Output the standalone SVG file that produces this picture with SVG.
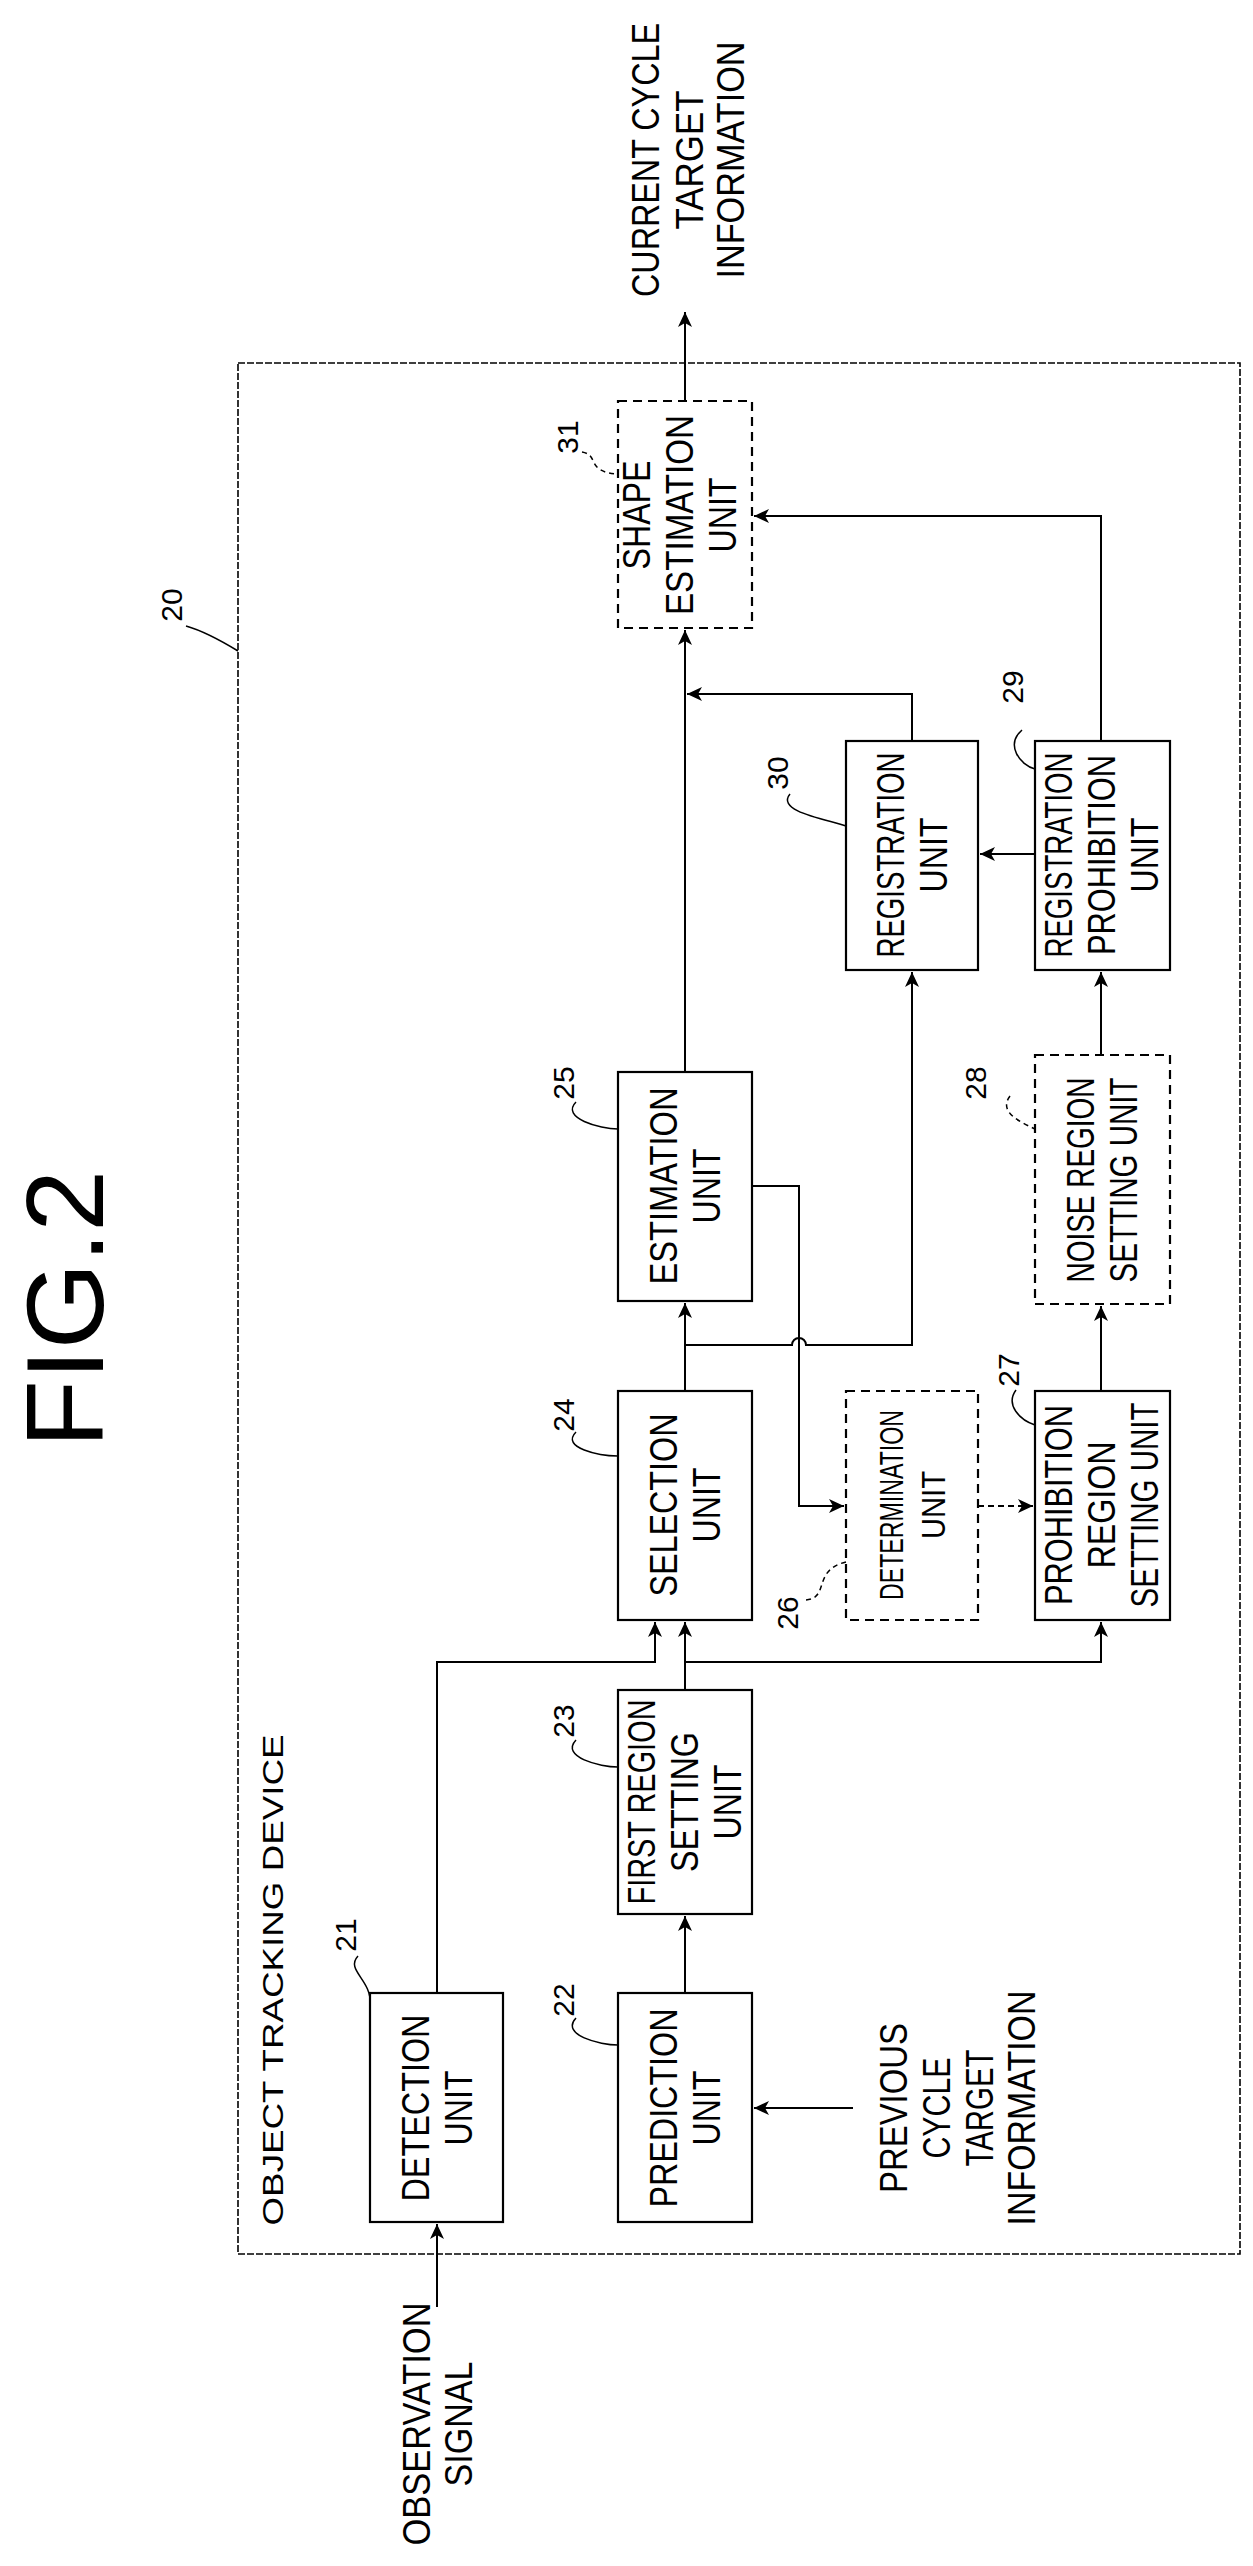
<svg xmlns="http://www.w3.org/2000/svg" width="1253" height="2566" viewBox="0 0 1253 2566">
<style>
text{font-family:"Liberation Sans",Arial,sans-serif;fill:#000;text-anchor:middle}
.t{font-size:38px}
.s{font-size:34px}
.n{font-size:30px}
.box{fill:#fff;stroke:#000;stroke-width:2.2}
.dbox{fill:#fff;stroke:#000;stroke-width:2.2;stroke-dasharray:9 6}
.ln{fill:none;stroke:#000;stroke-width:2}
.dl{fill:none;stroke:#000;stroke-width:2;stroke-dasharray:6 4}
.ld{fill:none;stroke:#000;stroke-width:1.5}
.ldd{fill:none;stroke:#000;stroke-width:1.5;stroke-dasharray:5 4}
</style>
<defs>
<marker id="a" markerUnits="userSpaceOnUse" markerWidth="16" markerHeight="14" refX="15" refY="7" orient="auto">
<path d="M0,0 L15,7 L0,14 L4,7 Z" fill="#000"/>
</marker>
</defs>
<rect width="1253" height="2566" fill="#fff"/>
<text transform="translate(103,1309) rotate(-90)" style="font-size:110px" textLength="278" lengthAdjust="spacingAndGlyphs">FIG.2</text>

<g id="n20">
<rect x="238" y="363" width="1002" height="1891" fill="none" stroke="#000" stroke-width="1.6" stroke-dasharray="7 2"/>
<text class="n" transform="translate(182,605) rotate(-90)">20</text>
<path class="ld" d="M186,626 C200,630 220,640 238,651"/>
<text class="n" transform="translate(283,1980) rotate(-90)" textLength="491" lengthAdjust="spacingAndGlyphs">OBJECT TRACKING DEVICE</text>
</g>

<g id="n21">
<rect class="box" x="370" y="1993" width="133" height="229"/>
<text class="t" transform="translate(428.5,2108) rotate(-90)" textLength="187" lengthAdjust="spacingAndGlyphs">DETECTION</text>
<text class="t" transform="translate(471.5,2108) rotate(-90)" textLength="75" lengthAdjust="spacingAndGlyphs">UNIT</text>
<text class="n" transform="translate(356,1935) rotate(-90)">21</text>
<path class="ld" d="M358,1956 C345,1970 372,1980 370,2004"/>
</g>

<g id="n22">
<rect class="box" x="618" y="1993" width="134" height="229"/>
<text class="t" transform="translate(676.5,2108) rotate(-90)" textLength="199" lengthAdjust="spacingAndGlyphs">PREDICTION</text>
<text class="t" transform="translate(719.5,2108) rotate(-90)" textLength="75" lengthAdjust="spacingAndGlyphs">UNIT</text>
<text class="n" transform="translate(574,2000) rotate(-90)">22</text>
<path class="ld" d="M576,2018 C560,2035 600,2045 618,2045"/>
</g>

<g id="n23">
<rect class="box" x="618" y="1690" width="134" height="224"/>
<text class="t" transform="translate(655,1802) rotate(-90)" textLength="205" lengthAdjust="spacingAndGlyphs">FIRST REGION</text>
<text class="t" transform="translate(698,1802) rotate(-90)" textLength="140" lengthAdjust="spacingAndGlyphs">SETTING</text>
<text class="t" transform="translate(741,1802) rotate(-90)" textLength="75" lengthAdjust="spacingAndGlyphs">UNIT</text>
<text class="n" transform="translate(574,1721) rotate(-90)">23</text>
<path class="ld" d="M576,1740 C560,1757 600,1767 618,1767"/>
</g>

<g id="n24">
<rect class="box" x="618" y="1391" width="134" height="229"/>
<text class="t" transform="translate(676.5,1505) rotate(-90)" textLength="183" lengthAdjust="spacingAndGlyphs">SELECTION</text>
<text class="t" transform="translate(719.5,1505) rotate(-90)" textLength="75" lengthAdjust="spacingAndGlyphs">UNIT</text>
<text class="n" transform="translate(574,1415) rotate(-90)">24</text>
<path class="ld" d="M576,1432 C560,1448 600,1456 618,1456"/>
</g>

<g id="n25">
<rect class="box" x="618" y="1072" width="134" height="229"/>
<text class="t" transform="translate(676.5,1186) rotate(-90)" textLength="197" lengthAdjust="spacingAndGlyphs">ESTIMATION</text>
<text class="t" transform="translate(719.5,1186) rotate(-90)" textLength="75" lengthAdjust="spacingAndGlyphs">UNIT</text>
<text class="n" transform="translate(574,1083) rotate(-90)">25</text>
<path class="ld" d="M576,1102 C560,1118 600,1129 618,1129"/>
</g>

<g id="n26">
<rect class="dbox" x="846" y="1391" width="132" height="229"/>
<text class="s" transform="translate(903,1505) rotate(-90)" textLength="190" lengthAdjust="spacingAndGlyphs">DETERMINATION</text>
<text class="s" transform="translate(945,1505) rotate(-90)" textLength="68" lengthAdjust="spacingAndGlyphs">UNIT</text>
<text class="n" transform="translate(798,1613) rotate(-90)">26</text>
<path class="ldd" d="M806,1600 C830,1598 812,1570 846,1562"/>
</g>

<g id="n27">
<rect class="box" x="1035" y="1391" width="135" height="229"/>
<text class="t" transform="translate(1072,1505) rotate(-90)" textLength="200" lengthAdjust="spacingAndGlyphs">PROHIBITION</text>
<text class="t" transform="translate(1115,1505) rotate(-90)" textLength="127" lengthAdjust="spacingAndGlyphs">REGION</text>
<text class="t" transform="translate(1158,1505) rotate(-90)" textLength="205" lengthAdjust="spacingAndGlyphs">SETTING UNIT</text>
<text class="n" transform="translate(1019,1370) rotate(-90)">27</text>
<path class="ld" d="M1016,1390 C1005,1405 1020,1420 1035,1425"/>
</g>

<g id="n28">
<rect class="dbox" x="1035" y="1055" width="135" height="249"/>
<text class="t" transform="translate(1093.5,1180) rotate(-90)" textLength="205" lengthAdjust="spacingAndGlyphs">NOISE REGION</text>
<text class="t" transform="translate(1136.5,1180) rotate(-90)" textLength="205" lengthAdjust="spacingAndGlyphs">SETTING UNIT</text>
<text class="n" transform="translate(986,1083) rotate(-90)">28</text>
<path class="ldd" d="M1010,1096 C998,1112 1020,1122 1035,1129"/>
</g>

<g id="n29">
<rect class="box" x="1035" y="741" width="135" height="229"/>
<text class="t" transform="translate(1072,855) rotate(-90)" textLength="205" lengthAdjust="spacingAndGlyphs">REGISTRATION</text>
<text class="t" transform="translate(1115,855) rotate(-90)" textLength="200" lengthAdjust="spacingAndGlyphs">PROHIBITION</text>
<text class="t" transform="translate(1158,855) rotate(-90)" textLength="75" lengthAdjust="spacingAndGlyphs">UNIT</text>
<text class="n" transform="translate(1023,687) rotate(-90)">29</text>
<path class="ld" d="M1022,730 C1005,745 1020,765 1035,769"/>
</g>

<g id="n30">
<rect class="box" x="846" y="741" width="132" height="229"/>
<text class="t" transform="translate(903.5,855) rotate(-90)" textLength="205" lengthAdjust="spacingAndGlyphs">REGISTRATION</text>
<text class="t" transform="translate(946.5,855) rotate(-90)" textLength="75" lengthAdjust="spacingAndGlyphs">UNIT</text>
<text class="n" transform="translate(788,773) rotate(-90)">30</text>
<path class="ld" d="M790,794 C775,812 830,820 846,826"/>
</g>

<g id="n31">
<rect class="dbox" x="618" y="401" width="134" height="227"/>
<text class="t" transform="translate(650,515) rotate(-90)" textLength="109" lengthAdjust="spacingAndGlyphs">SHAPE</text>
<text class="t" transform="translate(693,515) rotate(-90)" textLength="200" lengthAdjust="spacingAndGlyphs">ESTIMATION</text>
<text class="t" transform="translate(736,515) rotate(-90)" textLength="75" lengthAdjust="spacingAndGlyphs">UNIT</text>
<text class="n" transform="translate(578,437) rotate(-90)">31</text>
<path class="ldd" d="M582,452 C600,455 585,472 618,474"/>
</g>

<g id="labels">
<text class="t" transform="translate(659,160) rotate(-90)" textLength="274" lengthAdjust="spacingAndGlyphs">CURRENT CYCLE</text>
<text class="t" transform="translate(703,160) rotate(-90)" textLength="139" lengthAdjust="spacingAndGlyphs">TARGET</text>
<text class="t" transform="translate(744,160) rotate(-90)" textLength="237" lengthAdjust="spacingAndGlyphs">INFORMATION</text>
<text class="t" transform="translate(430,2424) rotate(-90)" textLength="243" lengthAdjust="spacingAndGlyphs">OBSERVATION</text>
<text class="t" transform="translate(472,2424) rotate(-90)" textLength="125" lengthAdjust="spacingAndGlyphs">SIGNAL</text>
<text class="t" transform="translate(907,2108) rotate(-90)" textLength="170" lengthAdjust="spacingAndGlyphs">PREVIOUS</text>
<text class="t" transform="translate(950,2108) rotate(-90)" textLength="101" lengthAdjust="spacingAndGlyphs">CYCLE</text>
<text class="t" transform="translate(993,2108) rotate(-90)" textLength="117" lengthAdjust="spacingAndGlyphs">TARGET</text>
<text class="t" transform="translate(1035,2108) rotate(-90)" textLength="235" lengthAdjust="spacingAndGlyphs">INFORMATION</text>
</g>

<g id="connectors">
<path class="ln" d="M437,2307 V2224" marker-end="url(#a)"/>
<path class="ln" d="M437,1993 V1662 H655 V1622" marker-end="url(#a)"/>
<path class="ln" d="M685,1993 V1916" marker-end="url(#a)"/>
<path class="ln" d="M685,1690 V1622" marker-end="url(#a)"/>
<path class="ln" d="M685,1662 H1101 V1622" marker-end="url(#a)"/>
<path class="ln" d="M853,2108 H754" marker-end="url(#a)"/>
<path class="ln" d="M685,1391 V1303" marker-end="url(#a)"/>
<path class="ln" d="M685,1345 H792 A7,7 0 0 1 806,1345 H912 V972" marker-end="url(#a)"/>
<path class="ln" d="M752,1186 H799 V1506 H844" marker-end="url(#a)"/>
<path class="dl" d="M978,1506 H1033" marker-end="url(#a)"/>
<path class="ln" d="M1101,1391 V1306" marker-end="url(#a)"/>
<path class="ln" d="M1101,1055 V972" marker-end="url(#a)"/>
<path class="ln" d="M1035,854 H980" marker-end="url(#a)"/>
<path class="ln" d="M685,1072 V630" marker-end="url(#a)"/>
<path class="ln" d="M912,741 V694 H687" marker-end="url(#a)"/>
<path class="ln" d="M1101,741 V516 H754" marker-end="url(#a)"/>
<path class="ln" d="M685,401 V312" marker-end="url(#a)"/>
</g>
</svg>
